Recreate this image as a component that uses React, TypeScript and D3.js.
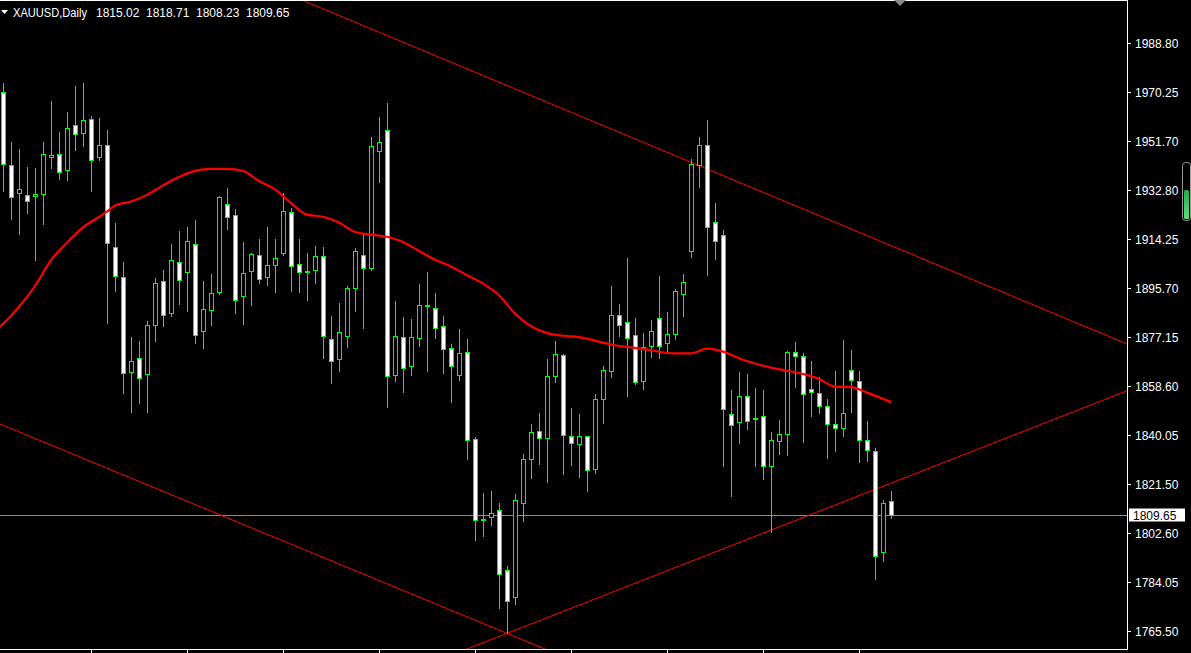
import React from "react";
import * as d3 from "d3";

const symbolTitle = "XAUUSD,Daily";
const lastBar = { open: "1815.02", high: "1818.71", low: "1808.23", close: "1809.65" };

const opens = [1970.1,1942.3,1931.7,1930.9,1930.6,1931.3,1945.4,1946.5,1940.4,1957.5,1954.5,1959.8,1945.4,1949.9,1911.2,1899.8,1863.7,1869.0,1863.0,1881.6,1898.3,1886.1,1905.5,1901.7,1912.3,1879.3,1887.3,1894.3,1927.5,1923.3,1892.6,1902.1,1908.2,1899.8,1904.4,1908.9,1924.5,1904.7,1902.3,1902.5,1907.8,1876.3,1868.7,1877.4,1895.6,1908.2,1903.2,1947.6,1955.6,1862.6,1877.0,1866.0,1876.6,1889.2,1888.3,1881.2,1872.8,1862.8,1871.3,1838.3,1807.9,1808.7,1811.3,1788.5,1778.3,1814.0,1830.7,1841.3,1838.7,1862.2,1870.2,1839.4,1836.4,1839.4,1827.1,1853.7,1864.1,1885.4,1882.7,1877.8,1860.3,1873.6,1884.2,1874.7,1878.2,1893.3,1909.7,1942.3,1949.9,1920.7,1915.7,1847.8,1844.7,1854.6,1846.5,1847.0,1828.0,1837.5,1840.2,1871.3,1869.8,1857.3,1855.7,1850.8,1844.0,1842.5,1864.5,1860.3,1837.9,1833.7,1795.4,1815.02];
const highs = [1973.7,1951.2,1948.5,1941.7,1941.3,1951.2,1966.8,1955.0,1962.6,1972.4,1973.5,1960.9,1960.3,1955.7,1920.3,1905.6,1877.1,1875.6,1883.1,1899.4,1902.5,1912.4,1917.4,1918.9,1921.6,1898.4,1901.1,1930.6,1933.7,1925.7,1913.2,1909.0,1914.3,1918.9,1914.3,1931.7,1926.1,1914.2,1908.9,1911.7,1911.2,1885.0,1889.9,1896.5,1910.8,1916.5,1953.0,1960.6,1965.9,1890.7,1884.7,1884.0,1897.3,1901.8,1893.8,1885.1,1874.5,1880.2,1876.4,1839.0,1817.8,1818.6,1814.0,1790.3,1817.4,1832.7,1844.0,1848.2,1868.7,1875.6,1870.7,1850.1,1847.8,1839.5,1855.5,1866.1,1896.5,1889.7,1907.1,1884.2,1878.5,1883.6,1900.2,1886.5,1895.4,1901.1,1944.6,1953.0,1959.5,1927.9,1917.6,1857.0,1863.8,1863.1,1857.8,1857.0,1840.9,1845.5,1871.9,1875.1,1871.1,1868.0,1862.1,1853.5,1864.2,1876.1,1872.2,1864.1,1845.1,1834.9,1815.1,1818.71];
const lows = [1932.7,1921.8,1916.4,1924.3,1906.5,1920.2,1941.4,1937.2,1936.9,1948.3,1949.8,1932.7,1944.2,1882.3,1894.7,1855.7,1848.8,1852.2,1848.8,1875.5,1881.4,1885.0,1889.8,1887.1,1874.7,1873.1,1881.8,1893.6,1918.3,1886.4,1882.2,1889.4,1897.7,1897.0,1894.3,1908.4,1894.7,1894.3,1891.3,1897.7,1869.3,1859.8,1864.3,1873.4,1887.1,1880.7,1902.5,1935.9,1850.4,1860.3,1856.4,1862.8,1873.8,1864.3,1876.9,1863.6,1852.6,1860.9,1830.9,1800.2,1801.7,1805.9,1774.3,1764.6,1775.9,1807.4,1823.7,1829.0,1822.0,1860.2,1825.2,1828.6,1824.1,1818.8,1825.6,1844.6,1862.1,1877.6,1854.8,1859.2,1857.3,1869.4,1869.0,1871.7,1876.3,1885.2,1907.6,1934.2,1900.8,1906.9,1828.3,1816.9,1837.0,1842.1,1828.3,1823.3,1803.1,1832.8,1832.4,1858.3,1837.4,1847.2,1848.4,1831.3,1834.0,1839.4,1848.8,1829.5,1829.9,1785.1,1792.0,1808.23];
const closes = [1942.7,1930.2,1933.2,1928.7,1931.3,1946.5,1946.1,1939.7,1956.4,1954.1,1959.4,1944.2,1949.9,1912.7,1900.2,1863.3,1867.9,1861.4,1881.6,1897.5,1885.4,1906.3,1898.7,1913.5,1877.8,1887.6,1893.7,1930.2,1922.6,1891.1,1901.3,1908.5,1899.0,1904.4,1907.0,1924.9,1904.0,1901.7,1902.3,1907.8,1877.4,1867.9,1878.9,1895.6,1909.7,1903.2,1949.5,1951.1,1862.2,1877.4,1865.2,1877.0,1889.2,1888.9,1880.4,1872.5,1866.0,1870.9,1837.9,1807.5,1807.7,1810.2,1787.0,1776.8,1815.1,1830.7,1840.9,1838.7,1862.2,1870.6,1839.8,1836.8,1839.4,1826.7,1853.5,1864.5,1885.4,1881.6,1876.6,1859.9,1873.2,1879.3,1873.6,1878.2,1894.5,1897.9,1942.7,1949.9,1918.8,1913.5,1849.7,1843.6,1854.6,1845.1,1846.4,1828.0,1837.9,1840.2,1871.3,1869.8,1855.4,1856.1,1850.8,1844.0,1842.5,1848.2,1860.7,1837.9,1834.1,1793.9,1814.0,1809.65];

const maBars = [-1,0,2,4,6,8,10,12,13,14,16,18,20,22,24,26,28,30,32,34,36,38,40,42,44,46,48,50,52,54,56,58,60,62,64,66,68,70,72,76,80,84,86,88,90,92,96,100,102,104,106,108,111];
const maValues = [1879.5,1882.1,1888.6,1896.5,1906.3,1913.0,1918.8,1922.7,1924.7,1927.1,1928.6,1931.1,1934.7,1937.9,1940.2,1941.0,1941.0,1940.2,1936.4,1933.2,1928.0,1923.6,1922.8,1920.6,1917.0,1916.0,1915.2,1913.2,1909.8,1906.5,1903.9,1900.6,1897.4,1893.0,1886.0,1881.2,1878.6,1877.6,1877.1,1874.3,1872.6,1870.9,1870.9,1872.7,1871.6,1869.1,1865.5,1863.1,1861.2,1858.3,1858.1,1856.0,1852.4];

// trend lines: pairs of [bar, price] anchors
const trendUpperA = [37.75, 2004.6];
const trendUpperB = [140.5, 1874.5];
const trendLowerDownA = [-0.375, 1844.1];
const trendLowerDownB = [63, 1764.6];
const trendLowerUpA = [63, 1764.6];
const trendLowerUpB = [140.5, 1856.7];

const yTickLabels = ["1988.80","1970.25","1951.70","1932.80","1914.25","1895.70","1877.15","1858.60","1840.05","1821.50","1802.60","1784.05","1765.50"];
const xTickBars = [11,23,35,47,59,71,83,95,107];
const bidPrice = 1809.65;

const W = 1191, H = 653;
const plotRight = 1127, plotBottom = 649;
const GREEN = "#00ff00";
const FONT = "'Liberation Sans', Arial, sans-serif";

export default function App() {
  const x = d3.scaleLinear().domain([0, 111]).range([3, 891]);
  const y = d3.scaleLinear().domain([1758.66, 2005.1]).range([plotBottom, 0]);

  const trendPath = (a: number[], b: number[]) => {
    const slope = (b[1] - a[1]) / (b[0] - a[0]);
    const b0 = x.invert(0), b1 = x.invert(plotRight);
    const p0 = a[1] + slope * (b0 - a[0]);
    const p1 = a[1] + slope * (b1 - a[0]);
    return { x1: 0, y1: y(p0), x2: plotRight, y2: y(p1) };
  };
  const tu = trendPath(trendUpperA, trendUpperB);
  const td = trendPath(trendLowerDownA, trendLowerDownB);
  const tl = trendPath(trendLowerUpA, trendLowerUpB);
  const maLine = d3.line<number>()
    .x((_, i) => x(maBars[i]))
    .y((v) => y(v))
    .curve(d3.curveMonotoneX)(maValues) || "";

  const bidY = Math.round(y(bidPrice)) + 0.5;

  return (
    <svg width={W} height={H} style={{ position: "absolute", left: 0, top: 0, background: "#000" }}>
      <rect x={0} y={0} width={W} height={H} fill="#000" />
      <defs>
        <clipPath id="plot"><rect x={0} y={0} width={plotRight} height={plotBottom} /></clipPath>
        <linearGradient id="slider" x1="0" y1="0" x2="0" y2="1">
          <stop offset="0" stopColor="#1cae4e" />
          <stop offset="1" stopColor="#5fe07a" />
        </linearGradient>
      </defs>
      <g clipPath="url(#plot)">
        <line x1={0} x2={plotRight} y1={bidY} y2={bidY} stroke="#7f8ea3" strokeWidth={1} />
        {[tu, td, tl].map((t, i) => (
          <line key={i} x1={t.x1} y1={t.y1} x2={t.x2} y2={t.y2} stroke="#ff0000" strokeWidth={1} />
        ))}
        {opens.map((o, i) => {
          const c = closes[i];
          const cx = Math.round(x(i));
          const hi = Math.round(y(highs[i]));
          const lo = Math.round(y(lows[i]));
          const top = Math.round(y(Math.max(o, c)));
          const bot = Math.round(y(Math.min(o, c)));
          const bear = c < o;
          const h = bot - top;
          return (
            <g key={i}>
              <line x1={cx + 0.5} x2={cx + 0.5} y1={hi} y2={lo + 1} stroke={GREEN} strokeWidth={1} />
              {h < 2 ? (
                <rect x={cx - 2} y={top} width={5} height={2} fill={GREEN} />
              ) : (
                <rect x={cx - 1.5} y={top + 0.5} width={4} height={h} fill={bear ? "#fff" : "#000"} stroke={GREEN} strokeWidth={1} />
              )}
            </g>
          );
        })}
        <path d={maLine} fill="none" stroke="#ff0000" strokeWidth={2.2} />
      </g>
      <line x1={0} x2={plotRight + 0.5} y1={0.5} y2={0.5} stroke="#fff" />
      <line x1={plotRight + 0.5} x2={plotRight + 0.5} y1={0} y2={plotBottom + 0.5} stroke="#fff" />
      <line x1={0} x2={plotRight + 0.5} y1={plotBottom + 0.5} y2={plotBottom + 0.5} stroke="#fff" />
      {xTickBars.map((b) => {
        const tx = Math.round(x(b)) + 0.5;
        return <line key={b} x1={tx} x2={tx} y1={plotBottom} y2={H} stroke="#fff" />;
      })}
      {yTickLabels.map((t) => {
        const ty = Math.round(y(parseFloat(t))) + 0.5;
        return (
          <g key={t}>
            <line x1={plotRight} x2={plotRight + 4} y1={ty} y2={ty} stroke="#fff" />
            <text x={1135} y={ty + 4} fill="#fff" fontSize={12} fontFamily={FONT}>{t}</text>
          </g>
        );
      })}
      <rect x={1129} y={bidY - 7} width={56} height={13} fill="#fff" />
      <text x={1133} y={bidY + 4} fill="#000" fontSize={12} fontFamily={FONT}>{bidPrice.toFixed(2)}</text>
      <polygon points="894,0 906,0 900,6" fill="#8a8a8a" />
      <rect x={1182.5} y={162.5} width={8} height={58} rx={3} fill="#000" stroke="#9a9a9a" strokeWidth={1} />
      <rect x={1184} y={190} width={5} height={29} rx={1.5} fill="url(#slider)" />
      <polygon points="1,10 8,10 4.5,14" fill="#fff" />
      <text x={13} y={16.5} fill="#fff" fontSize={12} fontFamily={FONT} textLength={74} lengthAdjust="spacingAndGlyphs">{symbolTitle}</text>
      <text x={96} y={16.5} fill="#fff" fontSize={12} fontFamily={FONT}>{lastBar.open}</text>
      <text x={146} y={16.5} fill="#fff" fontSize={12} fontFamily={FONT}>{lastBar.high}</text>
      <text x={196} y={16.5} fill="#fff" fontSize={12} fontFamily={FONT}>{lastBar.low}</text>
      <text x={246} y={16.5} fill="#fff" fontSize={12} fontFamily={FONT}>{lastBar.close}</text>
    </svg>
  );
}
